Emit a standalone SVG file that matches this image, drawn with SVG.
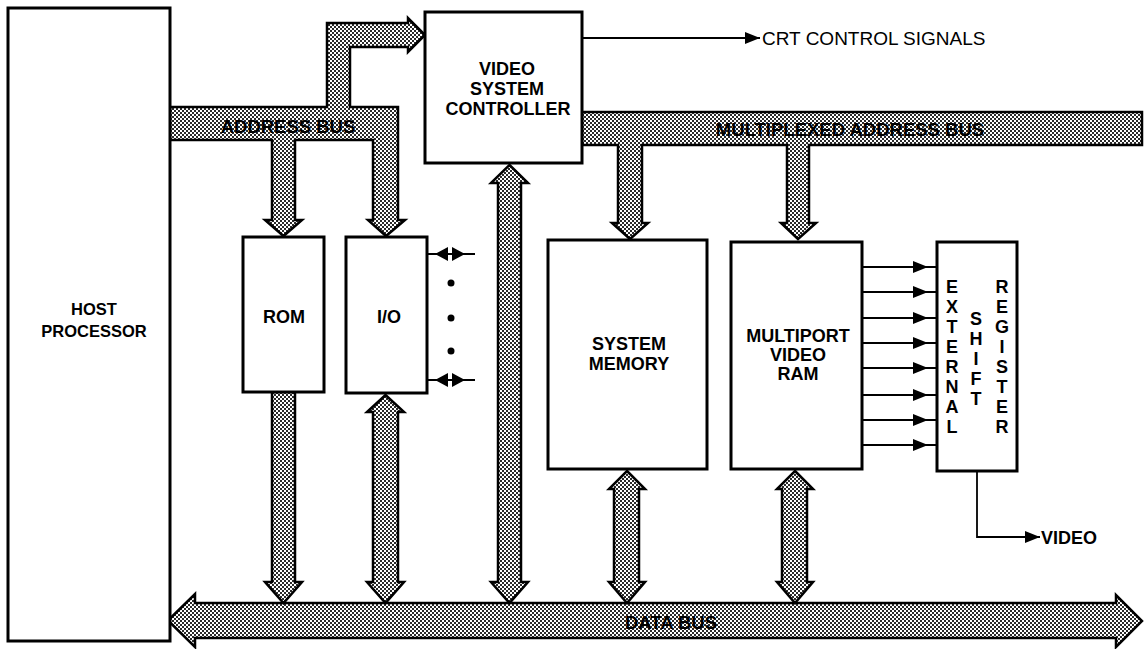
<svg xmlns="http://www.w3.org/2000/svg" width="1144" height="649" viewBox="0 0 1144 649">
<style>
.box{fill:#fff;stroke:#000;stroke-width:3}
.bus{fill:url(#stip);stroke:#000;stroke-width:2.5;stroke-linejoin:miter}
.wire{fill:none;stroke:#000;stroke-width:1.8}
.tap{fill:none;stroke:#000;stroke-width:1.8;marker-mid:url(#arr)}
.head{fill:#000}
.lbl{font-family:"Liberation Sans",Arial,sans-serif;font-weight:bold;font-size:18px;text-anchor:middle;fill:#000}
.buslbl{font-family:"Liberation Sans",Arial,sans-serif;font-weight:bold;font-size:18.5px;text-anchor:middle;fill:#000}
.sig{font-family:"Liberation Sans",Arial,sans-serif;font-size:19px;fill:#000}
.sigb{font-family:"Liberation Sans",Arial,sans-serif;font-weight:bold;font-size:18px;fill:#000}
</style>
<defs>
<pattern id="stip" width="4" height="4" patternUnits="userSpaceOnUse">
<rect width="4" height="4" fill="#fff"/>
<rect x="0" y="0" width="2" height="2" fill="#2a2a2a"/>
<rect x="2" y="2" width="2" height="2" fill="#2a2a2a"/>
</pattern>
<marker id="arr" markerWidth="15" markerHeight="12" refX="15" refY="6" orient="auto" markerUnits="userSpaceOnUse">
<path d="M0,0 L15,6 L0,12 z" fill="#000"/>
</marker>
</defs>

<g id="connectors">
<!-- address bus -->
<polygon class="bus" points="170,107 327,107 327,23 408,23 408,18 425,35 408,52 408,47 350,47 350,107 398,107 398,220 405,220 386,236 368,220 373,220 373,140 295,140 295,220 302,220 283.5,236 265,220 272,220 272,140 170,140"/>
<text class="buslbl" x="288" y="133">ADDRESS BUS</text>
<!-- multiplexed address bus -->
<polygon class="bus" points="582,112 1142,112 1142,145 809,145 809,223 816,223 798,239 781,223 787,223 787,145 642,145 642,223 648,223 630,239 612,223 618,223 618,145 582,145"/>
<text class="buslbl" x="850" y="136">MULTIPLEXED ADDRESS BUS</text>
<!-- data bus -->
<polygon class="bus" points="168,620.5 195,594 195,603 1116,603 1116,595 1142,621 1116,647 1116,638 195,638 195,647"/>
<text class="buslbl" x="671" y="629">DATA BUS</text>
<!-- vertical bus arrows -->
<polygon class="bus" points="272,392 295,392 295,582 302,582 283.5,603 265,582 272,582"/>
<polygon class="bus" points="385.5,395 404,412 398,412 398,582 404,582 385.5,603 367,582 373,582 373,412 367,412"/>
<polygon class="bus" points="509.5,165 528,183 521,183 521,582 528,582 509.5,603 491,582 498,582 498,183 491,183"/>
<polygon class="bus" points="627,471 645,489 639,489 639,582 645,582 627,603 609,582 614,582 614,489 609,489"/>
<polygon class="bus" points="795,471 813,489 807,489 807,582 813,582 795,603 777,582 782,582 782,489 777,489"/>
<!-- CRT control signals -->
<line class="wire" x1="582" y1="38" x2="760" y2="38" marker-end="url(#arr)"/>
<text class="sig" x="762" y="45">CRT CONTROL SIGNALS</text>
<!-- I/O side ports -->
<line class="wire" x1="427" y1="254" x2="475" y2="254"/>
<polygon class="head" points="435,254 448,247 448,261"/>
<polygon class="head" points="465,254 452,247 452,261"/>
<line class="wire" x1="427" y1="380" x2="475" y2="380"/>
<polygon class="head" points="435,380 448,373 448,387"/>
<polygon class="head" points="465,380 452,373 452,387"/>
<circle cx="451" cy="283" r="3.5" fill="#000"/>
<circle cx="451" cy="318" r="3.5" fill="#000"/>
<circle cx="451" cy="351" r="3.5" fill="#000"/>
<!-- VRAM to shift register -->
<path class="tap" d="M862,267 H928 H937"/>
<path class="tap" d="M862,292 H928 H937"/>
<path class="tap" d="M862,318 H928 H937"/>
<path class="tap" d="M862,343 H928 H937"/>
<path class="tap" d="M862,368 H928 H937"/>
<path class="tap" d="M862,395 H928 H937"/>
<path class="tap" d="M862,420 H928 H937"/>
<path class="tap" d="M862,445 H928 H937"/>
<!-- video output -->
<path class="wire" d="M977,471 V537 H1040" marker-end="url(#arr)"/>
<text class="sigb" x="1041" y="544">VIDEO</text>
</g>

<g id="host">
<rect class="box" x="8" y="8" width="162" height="633"/>
<text class="lbl" x="94" y="315" style="font-size:16.5px">HOST</text>
<text class="lbl" x="94" y="337" style="font-size:16.5px">PROCESSOR</text>
</g>
<g id="vsc">
<rect class="box" x="425" y="12" width="157" height="151"/>
<text class="lbl" x="507" y="75">VIDEO</text>
<text class="lbl" x="507" y="95">SYSTEM</text>
<text class="lbl" x="508" y="115">CONTROLLER</text>
</g>
<g id="rom">
<rect class="box" x="243" y="237" width="81" height="155"/>
<text class="lbl" x="284" y="323">ROM</text>
</g>
<g id="io">
<rect class="box" x="346" y="237" width="81" height="156"/>
<text class="lbl" x="389" y="323">I/O</text>
</g>
<g id="sysmem">
<rect class="box" x="548" y="240" width="159" height="229"/>
<text class="lbl" x="629" y="350">SYSTEM</text>
<text class="lbl" x="629" y="370">MEMORY</text>
</g>
<g id="vram">
<rect class="box" x="731" y="242" width="131" height="227"/>
<text class="lbl" x="798" y="342">MULTIPORT</text>
<text class="lbl" x="798" y="361">VIDEO</text>
<text class="lbl" x="798" y="380">RAM</text>
</g>
<g id="esr">
<rect class="box" x="937" y="242" width="80" height="229"/>
<text class="lbl" x="952" y="293"><tspan x="952">E</tspan><tspan x="952" dy="20">X</tspan><tspan x="952" dy="20">T</tspan><tspan x="952" dy="20">E</tspan><tspan x="952" dy="20">R</tspan><tspan x="952" dy="20">N</tspan><tspan x="952" dy="20">A</tspan><tspan x="952" dy="20">L</tspan></text>
<text class="lbl" x="976" y="325"><tspan x="976">S</tspan><tspan x="976" dy="20">H</tspan><tspan x="976" dy="20">I</tspan><tspan x="976" dy="20">F</tspan><tspan x="976" dy="20">T</tspan></text>
<text class="lbl" x="1002" y="293"><tspan x="1002">R</tspan><tspan x="1002" dy="20">E</tspan><tspan x="1002" dy="20">G</tspan><tspan x="1002" dy="20">I</tspan><tspan x="1002" dy="20">S</tspan><tspan x="1002" dy="20">T</tspan><tspan x="1002" dy="20">E</tspan><tspan x="1002" dy="20">R</tspan></text>
</g>
</svg>
